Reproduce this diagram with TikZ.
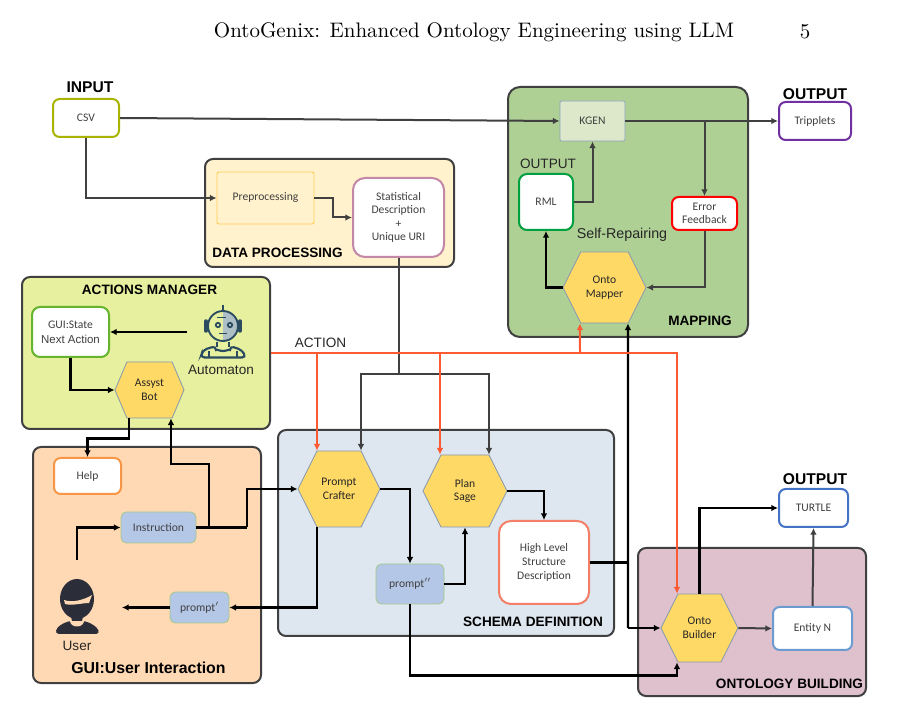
\documentclass[tikz,border=0pt]{standalone}
\usepackage{fontspec}
\setsansfont{Liberation Sans}
\newfontfamily\carlito{Carlito}
\usetikzlibrary{arrows.meta,shapes.symbols}

\definecolor{darkln}{HTML}{404040}
\definecolor{redln}{HTML}{FC5A32}
\definecolor{hexfill}{HTML}{FFD966}
\definecolor{hexline}{HTML}{8497B0}
\definecolor{bluefill}{HTML}{B4C7E7}
\definecolor{blueline}{HTML}{A3C98C}
\definecolor{robotcol}{HTML}{2A4B60}
\definecolor{robotface}{HTML}{AEBFC6}
\definecolor{usercol}{HTML}{2B2E38}
\definecolor{dpfill}{HTML}{FFF2CC}
\definecolor{amfill}{HTML}{E6F09E}
\definecolor{uifill}{HTML}{FFD9B3}
\definecolor{sdfill}{HTML}{DEE6F0}
\definecolor{mpfill}{HTML}{AFD095}
\definecolor{obfill}{HTML}{DFC1CD}
\definecolor{csvline}{HTML}{A9B400}
\definecolor{prepline}{HTML}{FFCC55}
\definecolor{statline}{HTML}{C387A8}
\definecolor{guiline}{HTML}{66B32E}
\definecolor{helpline}{HTML}{F79646}
\definecolor{hlline}{HTML}{F47F66}
\definecolor{kgenline}{HTML}{8EA4BF}
\definecolor{kgenfill}{HTML}{DDE8CB}
\definecolor{tripline}{HTML}{7030A0}
\definecolor{rmlline}{HTML}{00A040}
\definecolor{turtleline}{HTML}{4472C4}
\definecolor{entline}{HTML}{6C9BD2}

\tikzset{
  sz/.style 2 args={minimum width=#1*0.75pt, minimum height=#2*0.75pt, inner sep=0pt},
  txt/.style={font=\carlito\fontsize{8.7}{10.2}\selectfont, text=darkln, align=center},
  group/.style={draw=darkln, line width=1.5pt, rounded corners=6pt},
  whitebox/.style={txt, draw=#1, fill=white, line width=1.5pt, rounded corners=5pt},
  bluebox/.style={txt, draw=blueline, fill=bluefill, line width=0.6pt, rounded corners=4pt},
  hexa/.style={txt, text=black!85, signal, signal to=east and west, signal pointer angle=127,
    fill=hexfill, draw=hexline, line width=0.6pt},
  title/.style={font=\sffamily\bfseries\fontsize{10.2}{12}\selectfont},
  plain/.style={font=\sffamily\fontsize{10.2}{12}\selectfont, text=black!85},
  blk/.style={-{Latex[length=5pt,width=5pt]}, line width=1.7pt, black},
  gry/.style={-{Latex[length=5pt,width=5pt]}, line width=1.5pt, darkln},
  act/.style={-{Latex[length=5pt,width=5pt]}, line width=1.5pt, redln},
}

\begin{document}
\begin{tikzpicture}[x=0.75pt, y=-0.75pt]
  \useasboundingbox (0,0) rectangle (901,709);

  % page header
  \node (head) at (474,32) [scale=1.575] {OntoGenix: Enhanced Ontology Engineering using LLM};
  \node (page) at (805,32) [scale=1.575] {5};

  % groups
  \node (dp) at (329.5,213) [group, sz={249}{108}, fill=dpfill] {};
  \node (am) at (146,353) [group, sz={248}{152}, fill=amfill] {};
  \node (ui) at (147,565) [group, sz={228}{236}, fill=uifill] {};
  \node (sd) at (446,533) [group, sz={336}{206}, fill=sdfill] {};
  \node (mp) at (628,212) [group, sz={240}{250}, rounded corners=9pt, fill=mpfill] {};
  \node (ob0) at (752,622) [group, sz={228}{148}, fill=obfill] {};

  % group titles
  \node (inputT) at (90,87) [title, font=\sffamily\bfseries\fontsize{11.7}{12}\selectfont] {INPUT};
  \node (outT1) at (815,94) [title, font=\sffamily\bfseries\fontsize{11.7}{12}\selectfont] {OUTPUT};
  \node (outT2) at (815,479) [title, font=\sffamily\bfseries\fontsize{11.7}{12}\selectfont] {OUTPUT};
  \node (dpT) at (277.5,253) [title] {DATA PROCESSING};
  \node (amT) at (149.5,290) [title] {ACTIONS MANAGER};
  \node (uiT) at (148.5,668) [title, font=\sffamily\bfseries\fontsize{11.9}{13}\selectfont] {GUI:User Interaction};
  \node (sdT) at (533,622) [title] {SCHEMA DEFINITION};
  \node (mpT) at (700,321) [title] {MAPPING};
  \node (obT) at (789.5,684) [title] {ONTOLOGY BUILDING};

  % nodes
  \node (csv) at (86,118) [whitebox=csvline, sz={66}{38}] {CSV};
  \node (prep) at (265.5,198) [txt, sz={97}{52}, draw=prepline, fill=dpfill, line width=0.7pt, rounded corners=1.5pt] {Preprocessing};
  \node (stat) at (398.5,217.5) [whitebox=statline, sz={91}{79}, rounded corners=9pt] {Statistical\\Description\\+\\Unique URI};
  \node (gui) at (70.5,332) [whitebox=guiline, sz={77}{50}, rounded corners=6pt] {GUI:State\\[1pt]{\sffamily\fontsize{8.6}{10}\selectfont Next Action}};
  \node (assyst) at (149.5,390) [hexa, sz={69}{56}, signal pointer angle=134] {Assyst\\Bot};
  \node (help) at (87.5,476) [whitebox=helpline, sz={67}{36}] {Help};
  \node (instr) at (158.5,527.5) [bluebox, sz={75}{31}] {Instruction};
  \node (promptA) at (199.5,607.5) [bluebox, sz={59}{31}] {prompt$'$};
  \node (pc) at (339,489) [hexa, sz={82}{76}] {Prompt\\Crafter};
  \node (ps) at (465,491) [hexa, sz={84}{72}] {Plan\\Sage};
  \node (promptB) at (410,584) [bluebox, sz={68}{40}] {prompt$''$};
  \node (hl) at (544,562.5) [whitebox=hlline, sz={90}{83}, rounded corners=9pt] {High Level\\Structure\\Description};
  \node (kgen) at (592.5,121) [txt, sz={65}{40}, draw=kgenline, fill=kgenfill, line width=0.7pt, rounded corners=1pt] {KGEN};
  \node (trip) at (815,121) [whitebox=tripline, sz={72}{38}] {Tripplets};
  \node (rml) at (546,202) [whitebox=rmlline, sz={54}{56}, rounded corners=6pt] {RML};
  \node (err) at (704.5,213.5) [whitebox=red, sz={65}{33}] {Error\\Feedback};
  \node (om) at (604.5,287.5) [hexa, sz={83}{71}] {Onto\\Mapper};
  \node (turtle) at (813.5,508) [whitebox=turtleline, sz={69}{38}] {TURTLE};
  \node (ob) at (699.5,628) [hexa, sz={77}{68}] {Onto\\Builder};
  \node (ent) at (812.5,628.5) [whitebox=entline, sz={79}{43}] {Entity N};

  % plain labels
  \node (outT3) at (548,164) [plain] {OUTPUT};
  \node (selfT) at (622,235) [plain, font=\sffamily\fontsize{10.7}{12}\selectfont] {Self-Repairing};
  \node (robotT) at (221,370) [plain] {Automaton};
  \node (userT) at (77,646) [plain] {User};
  \node (actT) at (320.5,343) [plain] {ACTION};

  % automaton
  \fill[robotface] (223,341) arc (90:-90:15) -- cycle;
  \draw[robotcol, line width=1.4pt] (223,326) circle (15);
  \draw[robotcol, line width=1.5pt] (223,305) -- (223,311);
  \draw[robotcol, line width=2.6pt, line cap=round] (206,321) -- (206,331) (240,321) -- (240,331);
  \draw[robotcol, line width=1.2pt] (217,317.5) -- (226,317.5);
  \draw[robotcol, line width=1.3pt] (218,325) circle (2.2) (230,325) circle (2.2);
  \draw[robotcol, line width=1.2pt] (219,333.5) -- (227,333.5);
  \draw[robotcol, line width=2pt] (217,342) -- (217,347) (229,342) -- (229,347);
  \draw[robotcol, line width=1.6pt, rounded corners=3pt] (200.5,357.5) -- (203,350) -- (216,346) arc (180:0:7 and 5) -- (242,350) -- (246,357.5) -- cycle;
  \draw[robotcol, line width=1.2pt] (209,351) -- (209,357) (237,351) -- (237,357);

  % user
  \fill[usercol, rounded corners=3pt] (55,634) -- (57,627) -- (68,621) -- (86,621) -- (97,627) -- (100,634) -- cycle;
  \fill[uifill] (68,615) -- (70,621) arc (180:0:7 and 5.5) -- (86,615) -- cycle;
  \fill[usercol] (77,599) ellipse (17 and 20);
  \fill[usercol] (70,612) -- (72,621) -- (82,621) -- (84,612) -- cycle;
  \fill[uifill] (64,600) .. controls (72,603) and (84,600) .. (92,595) -- (89,603) .. controls (82,603) and (72,606) .. (65,604) -- cycle;
  \coordinate (userR) at (122,607.5);
  \coordinate (userU) at (77,560);
  \coordinate (robotL) at (187,332);

  % junctions
  \coordinate (j1) at (398.5,374);
  \coordinate (j2) at (247,527.5);
  \coordinate (j3) at (209,527.5);
  \coordinate (j4) at (628,628);
  \coordinate (j5) at (628,562.5);
  \coordinate (j6) at (704.5,121);
  \coordinate (r1) at (317,353);
  \coordinate (r2) at (440,353);
  \coordinate (r3) at (580,353);

  % data flow
  \draw[gry] (csv.east) -- (kgen.west);
  \draw[gry] (csv.south) |- (prep.west);
  \draw[gry] (prep.east) -- ++(19,0) |- (stat.west);
  \draw[gry, -] (stat.south) -- (j1);
  \draw[gry] (j1) -| ([xshift=16.5pt]pc.north);
  \draw[gry] (j1) -| ([xshift=18pt]ps.north);
  \draw[gry] (kgen.east) -- (trip.west);
  \draw[gry] (j6) -- (err.north);
  \draw[gry] (err.south) |- (om.east);
  \draw[gry] (rml.east) -| (kgen.south);
  \draw[gry] (ob.east) -- (ent.west);
  \draw[gry] (ent.north) -- (turtle.south);

  \draw[blk] (om.west) -| (rml.south);
  \draw[blk] (robotL) -- (gui.east);
  \draw[blk] (gui.south) |- (assyst.west);
  \draw[blk] ([xshift=-15.4pt]assyst.south) -- ++(0,20) -| (help.north);
  \draw[blk] (userU) |- (instr.west);
  \draw[blk, -] (instr.east) -- (j2);
  \draw[blk] (j2) |- (pc.west);
  \draw[blk] (j3) -- ++(0,-63.5) -| ([xshift=16.1pt]assyst.south);
  \draw[blk] (promptA.west) -- (userR);
  \draw[blk] ([xshift=-16.5pt]pc.south) |- (promptA.east);
  \draw[blk] (pc.east) -| (promptB.north);
  \draw[blk] (promptB.east) -| (ps.south);
  \draw[blk] (ps.east) -| (hl.north);
  \draw[blk] (promptB.south) -- ++(0,71) -| ([xshift=-16.9pt]ob.south);
  \draw[blk, -] (hl.east) -- (j5);
  \draw[blk] (j4) -- ([xshift=17.6pt]om.south);
  \draw[blk] (j4) -- (ob.west);
  \draw[blk] (ob.north) |- (turtle.west);

  % actions
  \draw[act] (am.east) -| ([xshift=-16.9pt]ob.north);
  \draw[act] (r1) -- ([xshift=-16.5pt]pc.north);
  \draw[act] (r2) -- ([xshift=-18.75pt]ps.north);
  \draw[act] (r3) -- ([xshift=-18.4pt]om.south);
\end{tikzpicture}
\end{document}
